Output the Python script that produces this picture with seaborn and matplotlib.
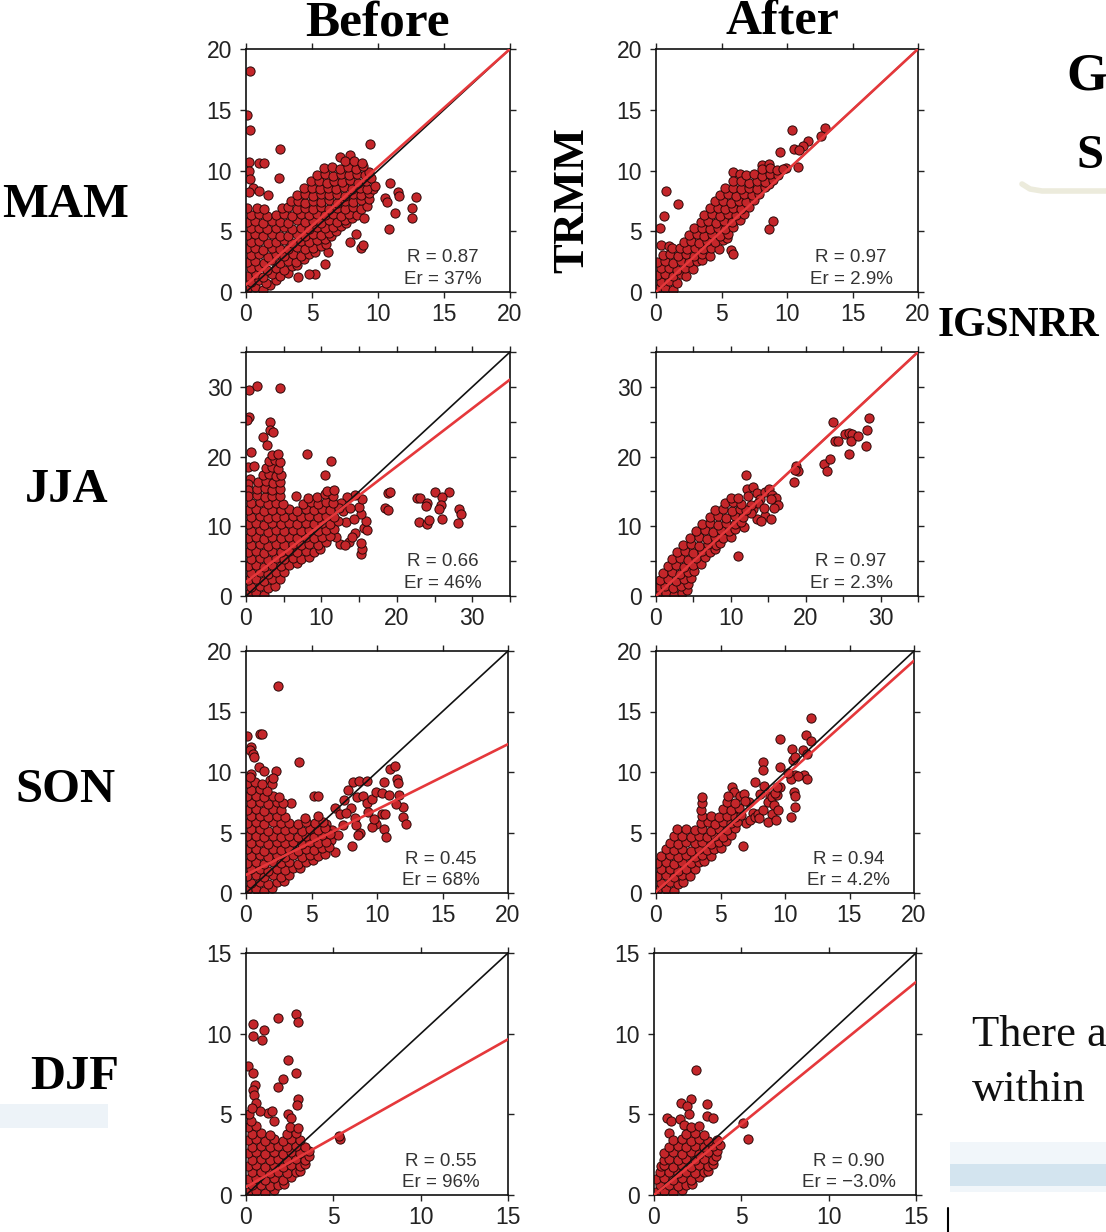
import matplotlib
matplotlib.use("Agg")
import matplotlib.pyplot as plt
from matplotlib import font_manager
from matplotlib.lines import Line2D
from matplotlib.patches import Rectangle
import pandas as pd
import seaborn as sns

# ---------------------------------------------------------------- data
seasons = ["MAM", "JJA", "SON", "DJF"]
axis_max = [20, 35, 20, 15]
label_step = [5, 10, 5, 5]
tick_step = [5, 5, 5, 5]

r_before = ["0.87", "0.66", "0.45", "0.55"]
er_before = ["37%", "46%", "68%", "96%"]
r_after = ["0.97", "0.97", "0.94", "0.90"]
er_after = ["2.9%", "2.3%", "4.2%", "\u22123.0%"]

# fitted regression lines (slope, intercept)
fit_before = [(0.97, 0.6), (0.83, 2.0), (0.54, 1.5), (0.61, 0.5)]
fit_after = [(1.00, 0.0), (1.00, 0.0), (0.955, 0.1), (0.88, 0.0)]

mam_before = [
    (0.3, 18.2), (0.1, 14.6), (0.3, 13.3), (2.6, 11.8), (9.4, 12.2), (0.2, 10.7), (1.0, 10.6), (1.4, 10.6),
    (0.2, 10.0), (2.5, 9.35), (0.3, 9.3), (0.5, 8.6), (1.0, 8.3), (1.65, 8.0), (0.2, 8.2),
    (10.9, 9.0), (11.5, 8.25), (11.6, 7.9), (10.5, 7.7), (10.7, 7.4), (11.3, 6.5), (12.9, 7.8), (12.6, 6.9),
    (12.6, 6.1), (10.8, 5.2), (7.9, 4.1), (8.7, 3.6), (8.9, 3.9), (8.3, 4.8), (5.2, 1.5), (4.8, 1.5),
    (3.95, 1.25), (5.95, 2.3), (6.2, 3.3), (7.1, 11.15), (7.85, 11.3),
    (0.1, 0.25), (0.7, 0.4), (1.3, 0.15), (1.8, 0.6),
    (0.4, 0.85), (1.0, 0.95), (1.55, 0.7), (2.3, 0.95),
    (0.05, 1.35), (0.75, 1.5), (1.3, 1.25), (1.95, 1.45), (2.6, 1.3), (3.2, 1.6),
    (0.35, 1.95), (1.0, 2.05), (1.6, 1.8), (2.25, 2.0), (2.85, 1.85), (3.5, 2.1), (3.9, 2.2),
    (0.05, 2.5), (0.7, 2.55), (1.35, 2.35), (1.9, 2.6), (2.55, 2.4), (3.2, 2.55), (3.8, 2.45), (4.4, 2.7),
    (0.35, 3.05), (1.0, 3.15), (1.65, 2.9), (2.3, 3.1), (2.9, 2.95), (3.55, 3.15), (4.15, 3.0), (4.75, 3.15), (5.2, 3.3),
    (0.05, 3.6), (0.7, 3.65), (1.3, 3.45), (1.95, 3.65), (2.6, 3.5), (3.2, 3.55), (3.85, 3.7), (4.5, 3.55), (5.1, 3.65), (5.7, 3.75), (6.05, 3.95),
    (0.35, 4.15), (1.0, 4.2), (1.65, 4.0), (2.3, 4.15), (2.9, 4.25), (3.5, 4.05), (4.15, 4.2), (4.8, 4.1), (5.4, 4.25), (6.0, 4.35), (6.45, 4.6),
    (0.05, 4.7), (0.7, 4.75), (1.3, 4.6), (1.95, 4.75), (2.6, 4.65), (3.2, 4.6), (3.85, 4.75), (4.5, 4.65), (5.1, 4.8), (5.7, 4.7), (6.3, 4.85), (6.85, 5.05),
    (0.35, 5.25), (1.0, 5.3), (1.6, 5.15), (2.25, 5.25), (2.9, 5.35), (3.5, 5.15), (4.15, 5.3), (4.8, 5.2), (5.4, 5.35), (6.0, 5.25), (6.6, 5.35), (7.2, 5.45), (7.55, 5.7),
    (0.05, 5.8), (0.7, 5.85), (1.3, 5.7), (1.95, 5.85), (2.6, 5.75), (3.2, 5.7), (3.85, 5.9), (4.5, 5.75), (5.1, 5.85), (5.7, 5.7), (6.3, 5.9), (6.9, 5.75), (7.5, 5.95), (8.05, 6.05),
    (0.35, 6.35), (1.0, 6.4), (1.6, 6.25), (2.25, 6.3), (2.9, 6.45), (3.5, 6.25), (4.15, 6.4), (4.8, 6.3), (5.4, 6.45), (6.0, 6.3), (6.6, 6.4), (7.2, 6.25), (7.8, 6.45), (8.4, 6.3), (8.95, 6.1),
    (0.1, 6.9), (0.8, 6.95), (1.4, 6.8), (2.7, 6.9), (3.2, 7.0), (3.85, 6.8), (4.5, 6.95), (5.1, 6.85), (5.7, 7.0), (6.3, 6.8), (6.9, 6.95), (7.5, 6.85), (8.1, 7.0), (8.7, 6.8), (9.2, 7.05),
    (3.4, 7.45), (3.95, 7.5), (4.5, 7.35), (5.1, 7.5), (5.7, 7.4), (6.3, 7.55), (6.9, 7.35), (7.5, 7.5), (8.1, 7.4), (8.7, 7.55), (9.3, 7.65),
    (3.9, 8.0), (4.5, 8.05), (5.1, 7.9), (5.7, 8.05), (6.3, 7.95), (6.9, 8.1), (7.5, 7.9), (8.1, 8.05), (8.7, 7.95), (9.3, 8.15), (9.65, 8.45),
    (4.4, 8.55), (5.0, 8.6), (5.6, 8.45), (6.2, 8.6), (6.8, 8.5), (7.4, 8.65), (8.0, 8.45), (8.6, 8.6), (9.2, 8.5), (9.75, 8.75),
    (4.9, 9.1), (5.5, 9.15), (6.1, 9.0), (6.7, 9.15), (7.3, 9.05), (7.9, 9.2), (8.5, 9.0), (9.1, 9.15), (9.5, 9.35),
    (5.4, 9.65), (6.0, 9.7), (6.6, 9.55), (7.2, 9.7), (7.8, 9.6), (8.4, 9.75), (9.0, 9.6), (9.3, 9.9),
    (5.9, 10.2), (6.5, 10.25), (7.1, 10.1), (7.7, 10.3), (8.3, 10.15), (8.9, 10.35),
    (7.5, 10.75), (8.2, 10.8), (8.8, 10.6),
]

mam_after = [
    (0.8, 8.35), (1.7, 7.25), (0.6, 6.25), (0.33, 5.3), (0.4, 3.85), (1.0, 3.8), (5.9, 9.9), (6.4, 9.7),
    (10.4, 13.35), (12.9, 13.5), (12.6, 12.8), (11.6, 12.4), (11.2, 12.0), (10.5, 11.8), (10.9, 11.7),
    (9.45, 11.55), (10.85, 10.3), (8.1, 10.45), (8.6, 10.5), (8.95, 5.85), (8.65, 5.15), (5.7, 3.45),
    (5.9, 3.1), (9.9, 10.2),
    (0.1, 0.25), (0.7, 0.35), (1.3, 0.2),
    (0.35, 0.85), (1.0, 0.9), (1.6, 0.75),
    (0.05, 1.4), (0.7, 1.45), (1.3, 1.3), (1.9, 1.45), (2.3, 1.35),
    (0.35, 1.95), (1.0, 2.0), (1.6, 1.85), (2.2, 2.0), (2.8, 1.9),
    (0.1, 2.5), (0.7, 2.55), (1.3, 2.4), (1.9, 2.55), (2.5, 2.45), (3.1, 2.55), (3.5, 2.65),
    (0.5, 3.05), (1.1, 3.1), (1.7, 2.95), (2.3, 3.1), (2.9, 3.0), (3.5, 3.15), (4.1, 3.0),
    (1.2, 3.6), (1.8, 3.65), (2.4, 3.5), (3.0, 3.65), (3.6, 3.55), (4.2, 3.65), (4.8, 3.5),
    (2.1, 4.15), (2.7, 4.2), (3.3, 4.05), (3.9, 4.2), (4.5, 4.1), (5.1, 4.25), (5.4, 4.45),
    (2.5, 4.7), (3.1, 4.75), (3.7, 4.6), (4.3, 4.75), (4.9, 4.65), (5.5, 4.8),
    (2.9, 5.25), (3.5, 5.3), (4.1, 5.15), (4.7, 5.3), (5.3, 5.2), (5.9, 5.35),
    (3.4, 5.8), (4.0, 5.85), (4.6, 5.7), (5.2, 5.85), (5.8, 5.75), (6.4, 5.9),
    (3.7, 6.35), (4.3, 6.4), (4.9, 6.25), (5.5, 6.4), (6.1, 6.3), (6.7, 6.45),
    (4.1, 6.9), (4.7, 6.95), (5.3, 6.8), (5.9, 6.95), (6.5, 6.85), (7.1, 7.0),
    (4.5, 7.45), (5.1, 7.5), (5.7, 7.35), (6.3, 7.5), (6.9, 7.4), (7.5, 7.55),
    (4.9, 8.0), (5.5, 8.05), (6.1, 7.9), (6.7, 8.05), (7.3, 7.95), (7.9, 8.1),
    (5.3, 8.55), (5.9, 8.6), (6.5, 8.45), (7.1, 8.6), (7.7, 8.5), (8.3, 8.65), (8.6, 8.85),
    (5.9, 9.1), (6.5, 9.15), (7.1, 9.0), (7.7, 9.15), (8.3, 9.05), (8.9, 9.2),
    (6.9, 9.65), (7.5, 9.7), (8.1, 9.55), (8.7, 9.7), (9.3, 9.6),
    (8.1, 10.15), (8.7, 10.2), (9.2, 10.05), (9.7, 10.1),
]

jja_before = [
    (0.44, 29.5), (1.46, 30.1), (4.56, 29.8), (0.35, 25.7), (0.1, 25.3), (3.14, 25.0), (3.2, 23.8), (3.6, 23.5),
    (2.26, 22.8), (2.8, 21.7), (0.66, 20.6), (8.1, 20.3), (11.3, 19.35), (10.5, 17.3), (0.3, 18.5), (0.5, 16.8),
    (0.3, 16.0), (1.0, 18.7), (0.2, 15.2),
    (18.76, 14.74), (19.1, 14.9), (18.4, 12.6), (18.8, 12.4), (22.7, 14.0), (23.1, 14.1), (24.0, 13.35),
    (23.8, 12.96), (22.9, 10.56), (24.0, 10.3), (24.2, 10.9), (25.0, 14.9), (26.9, 14.9), (26.0, 14.2),
    (25.9, 13.0), (25.6, 12.5), (26.0, 11.0), (28.2, 12.5), (28.5, 11.7), (28.1, 10.4),
    (15.2, 6.0), (15.4, 6.7), (15.3, 7.6), (14.5, 9.1), (15.6, 9.8), (16.1, 9.5), (15.9, 10.8), (15.3, 11.8),
    (15.0, 12.7), (15.4, 13.9), (14.5, 14.5), (13.4, 14.2), (12.8, 12.2), (13.2, 10.6), (13.6, 7.7),
    (12.5, 7.5), (13.1, 7.3), (14.1, 8.4), (11.9, 8.4), (6.6, 14.4), (12.6, 13.4), (13.8, 12.6), (14.3, 11.0),
    (0.2, 0.3), (1.3, 0.45), (2.4, 0.2),
    (0.7, 1.3), (1.8, 1.45), (2.9, 1.2), (3.9, 1.5),
    (0.2, 2.3), (1.3, 2.45), (2.4, 2.2), (3.5, 2.4), (4.5, 2.5),
    (0.7, 3.3), (1.8, 3.45), (2.9, 3.2), (4.0, 3.4), (5.1, 3.5),
    (0.2, 4.3), (1.3, 4.45), (2.4, 4.2), (3.5, 4.4), (4.6, 4.3), (5.7, 4.5), (6.7, 4.7),
    (0.7, 5.3), (1.8, 5.45), (2.9, 5.2), (4.0, 5.4), (5.1, 5.3), (6.2, 5.5), (7.3, 5.3), (8.4, 5.6),
    (0.2, 6.3), (1.3, 6.45), (2.4, 6.2), (3.5, 6.4), (4.6, 6.3), (5.7, 6.5), (6.8, 6.3), (7.9, 6.45), (9.0, 6.3), (9.8, 6.7),
    (0.7, 7.3), (1.8, 7.45), (2.9, 7.2), (4.0, 7.4), (5.1, 7.3), (6.2, 7.5), (7.3, 7.3), (8.4, 7.45), (9.5, 7.3), (10.6, 7.7),
    (0.2, 8.3), (1.3, 8.45), (2.4, 8.2), (3.5, 8.4), (4.6, 8.3), (5.7, 8.5), (6.8, 8.3), (7.9, 8.45), (9.0, 8.3), (10.1, 8.5), (11.2, 8.6),
    (0.7, 9.3), (1.8, 9.45), (2.9, 9.2), (4.0, 9.4), (5.1, 9.3), (6.2, 9.5), (7.3, 9.3), (8.4, 9.45), (9.5, 9.3), (10.6, 9.5), (11.7, 9.6),
    (0.2, 10.3), (1.3, 10.45), (2.4, 10.2), (3.5, 10.4), (4.6, 10.3), (5.7, 10.5), (6.8, 10.3), (7.9, 10.45), (9.0, 10.3), (10.1, 10.5), (11.2, 10.3), (12.2, 10.7),
    (0.7, 11.3), (1.8, 11.45), (2.9, 11.2), (4.0, 11.4), (5.1, 11.3), (6.2, 11.5), (7.3, 11.3), (8.4, 11.45), (9.5, 11.3), (10.6, 11.5), (11.7, 11.3),
    (0.2, 12.3), (1.3, 12.45), (2.4, 12.2), (3.5, 12.4), (4.6, 12.3), (5.7, 12.5), (6.8, 12.2), (7.9, 12.45), (9.0, 12.3), (10.1, 12.5), (11.2, 12.3), (12.3, 12.6),
    (0.7, 13.3), (1.8, 13.45), (2.9, 13.2), (4.0, 13.4), (4.9, 13.2), (7.6, 13.2), (8.6, 13.45), (9.6, 13.2), (10.6, 13.5), (11.6, 13.3),
    (0.3, 14.3), (1.4, 14.45), (2.5, 14.2), (3.5, 14.4), (4.5, 14.3), (8.2, 14.1), (9.4, 14.2), (10.5, 14.6), (11.5, 14.4),
    (1.5, 15.3), (2.5, 15.45), (3.5, 15.2), (4.5, 15.4), (10.7, 15.0), (11.7, 15.2),
    (1.6, 16.3), (2.6, 16.45), (3.6, 16.2), (4.5, 16.4),
    (2.2, 17.3), (3.1, 17.45), (4.0, 17.2), (4.7, 17.4),
    (2.6, 18.3), (3.5, 18.45), (4.3, 18.2),
    (3.0, 19.3), (3.9, 19.45), (4.5, 19.2),
    (3.4, 20.2), (4.2, 20.4),
]

jja_after = [
    (18.4, 16.4), (18.7, 18.7), (18.97, 18.0), (18.6, 18.1), (22.4, 19.0), (23.2, 19.7), (22.9, 17.9),
    (23.6, 25.0), (23.9, 22.3), (24.3, 22.3), (25.2, 23.3), (25.8, 23.35), (26.2, 23.3), (26.1, 22.3),
    (25.8, 20.3), (27.0, 22.9), (28.2, 23.8), (28.5, 25.5), (28.1, 21.5),
    (12.1, 15.4), (12.9, 15.6), (13.5, 14.8), (14.6, 14.9), (15.1, 15.4), (15.5, 14.5), (16.0, 14.0),
    (16.3, 13.1), (15.8, 12.6), (15.4, 13.9), (14.6, 11.5), (15.3, 11.0), (13.5, 11.0), (13.0, 12.5),
    (12.7, 11.9), (14.0, 10.8), (13.9, 13.9), (13.6, 13.3), (11.8, 9.84), (12.7, 13.0), (10.9, 5.76),
    (12.0, 17.4), (14.4, 12.6), (12.3, 14.3),
    (0.2, 0.3), (1.3, 0.45), (2.4, 0.2), (3.5, 0.5), (4.2, 0.8),
    (0.3, 1.3), (1.2, 1.5), (2.3, 1.2), (3.4, 1.4), (4.3, 1.65),
    (0.5, 2.3), (1.6, 2.45), (2.7, 2.2), (3.8, 2.45), (4.7, 2.6),
    (1.0, 3.3), (2.1, 3.45), (3.2, 3.2), (4.3, 3.45), (5.1, 3.55),
    (1.6, 4.3), (2.7, 4.45), (3.8, 4.2), (4.9, 4.45), (6.0, 4.55),
    (2.1, 5.3), (3.2, 5.45), (4.3, 5.2), (5.4, 5.45), (6.6, 5.55),
    (2.8, 6.3), (3.9, 6.45), (5.0, 6.2), (6.1, 6.45), (7.2, 6.3), (7.9, 6.7),
    (3.6, 7.3), (4.7, 7.45), (5.8, 7.2), (6.9, 7.45), (8.0, 7.3), (8.6, 7.65),
    (4.6, 8.3), (5.7, 8.45), (6.8, 8.2), (7.9, 8.45), (9.0, 8.3), (10.0, 8.45),
    (5.4, 9.3), (6.5, 9.45), (7.6, 9.2), (8.7, 9.45), (9.8, 9.3), (10.6, 9.55),
    (6.1, 10.3), (7.2, 10.45), (8.3, 10.2), (9.4, 10.45), (10.5, 10.3), (11.3, 10.65),
    (7.2, 11.3), (8.3, 11.45), (9.4, 11.2), (10.5, 11.45), (11.6, 11.3),
    (7.9, 12.3), (9.0, 12.45), (10.1, 12.2), (11.2, 12.45), (12.0, 12.3),
    (9.2, 13.3), (10.3, 13.45), (11.3, 13.2),
    (10.0, 14.1), (11.0, 14.0),
]

son_before = [
    (2.43, 17.1), (0.05, 13.0), (1.05, 13.1), (1.25, 13.1), (0.4, 12.1), (0.3, 11.8), (0.5, 11.5), (0.64, 11.25),
    (1.0, 10.4), (1.4, 10.1), (2.3, 10.1), (4.04, 10.8), (1.8, 9.3), (2.0, 9.0), (2.05, 9.5), (0.4, 9.8),
    (5.17, 8.0), (5.5, 8.0), (6.78, 7.0), (7.2, 6.5), (7.47, 7.65), (7.8, 8.5), (8.18, 9.17), (8.6, 9.25),
    (9.2, 9.25), (8.5, 7.9), (8.9, 8.0), (9.2, 7.4), (9.6, 7.8), (9.3, 6.7), (8.0, 7.0), (8.3, 6.2), (7.6, 6.6),
    (8.4, 5.58), (8.7, 5.0), (8.57, 4.83), (8.1, 3.87), (9.9, 8.35), (10.4, 8.3), (10.5, 9.17), (11.0, 10.28),
    (11.38, 10.47), (11.56, 9.45), (11.6, 9.1), (11.7, 8.07), (12.0, 7.1), (11.97, 6.27), (12.2, 5.7),
    (11.46, 7.32), (10.36, 6.55), (10.6, 6.5), (10.5, 5.25), (10.7, 4.6), (9.9, 5.7), (9.6, 5.45), (9.8, 6.1),
    (10.9, 8.1), (6.78, 3.37), (6.52, 4.34), (6.6, 5.2), (6.1, 5.7), (3.45, 7.43), (7.0, 4.8), (7.4, 5.6),
    (0.1, 0.25), (0.75, 0.35), (1.4, 0.2), (2.0, 0.45),
    (0.4, 0.85), (1.05, 0.9), (1.7, 0.75), (2.35, 0.95), (2.9, 1.0),
    (0.1, 1.4), (0.75, 1.45), (1.4, 1.3), (2.05, 1.45), (2.7, 1.35), (3.3, 1.5),
    (0.4, 1.95), (1.05, 2.0), (1.7, 1.85), (2.35, 2.0), (3.0, 1.9), (3.6, 2.05), (4.1, 2.1),
    (0.1, 2.5), (0.75, 2.55), (1.4, 2.4), (2.05, 2.55), (2.7, 2.45), (3.3, 2.55), (3.95, 2.4), (4.6, 2.6), (5.1, 2.7),
    (0.4, 3.05), (1.05, 3.1), (1.7, 2.95), (2.35, 3.1), (3.0, 3.0), (3.6, 3.15), (4.25, 2.95), (4.9, 3.1), (5.5, 3.05), (6.0, 3.2),
    (0.1, 3.6), (0.75, 3.65), (1.4, 3.5), (2.05, 3.65), (2.7, 3.55), (3.3, 3.6), (3.95, 3.5), (4.6, 3.65), (5.2, 3.55), (5.8, 3.7), (6.3, 3.8),
    (0.4, 4.15), (1.05, 4.2), (1.7, 4.05), (2.35, 4.2), (3.0, 4.1), (3.6, 4.2), (4.25, 4.05), (4.9, 4.2), (5.5, 4.1), (6.1, 4.25),
    (0.1, 4.7), (0.75, 4.75), (1.4, 4.6), (2.05, 4.75), (2.7, 4.65), (3.3, 4.7), (3.95, 4.6), (4.6, 4.75), (5.2, 4.65), (5.8, 4.8), (6.4, 4.9),
    (0.4, 5.25), (1.05, 5.3), (1.7, 5.15), (2.35, 5.3), (3.0, 5.2), (3.6, 5.3), (4.25, 5.15), (4.9, 5.3), (5.5, 5.2), (6.0, 5.35),
    (0.1, 5.8), (0.75, 5.85), (1.4, 5.7), (2.05, 5.85), (2.7, 5.75), (3.3, 5.8), (3.95, 5.7), (4.6, 5.85), (5.3, 5.75), (5.9, 5.9),
    (0.4, 6.35), (1.05, 6.4), (1.7, 6.25), (2.35, 6.4), (3.0, 6.3), (4.5, 6.2), (5.5, 6.4),
    (0.1, 6.9), (0.75, 6.95), (1.4, 6.8), (2.05, 6.95), (2.7, 6.85),
    (0.4, 7.45), (1.05, 7.5), (1.7, 7.35), (2.35, 7.5), (2.8, 7.4),
    (0.1, 8.0), (0.75, 8.05), (1.4, 7.9), (2.05, 8.05), (2.5, 7.95),
    (0.4, 8.55), (1.05, 8.6), (1.6, 8.45),
    (0.1, 9.1), (0.7, 9.15), (1.2, 9.0),
    (0.3, 9.55),
]

son_after = [
    (5.86, 8.76), (6.06, 8.34), (6.5, 8.0), (6.83, 8.2), (6.3, 7.0), (6.5, 6.5), (7.0, 5.8), (7.5, 6.6),
    (7.3, 6.0), (7.64, 6.27), (7.9, 6.5), (7.7, 9.17), (8.1, 8.2), (8.33, 10.83), (8.33, 10.2), (8.4, 8.84),
    (8.8, 8.0), (8.66, 7.5), (8.3, 6.9), (8.0, 6.2), (9.0, 7.9), (9.17, 7.24), (8.97, 6.55), (8.66, 5.86),
    (9.3, 6.0), (9.43, 6.82), (9.38, 8.07), (9.2, 8.3), (9.63, 10.4), (9.58, 8.76), (9.6, 12.76),
    (10.57, 11.93), (10.65, 10.97), (10.8, 11.2), (10.8, 9.72), (10.5, 9.4), (10.7, 8.34), (10.75, 8.0),
    (10.75, 7.1), (10.5, 6.27), (11.46, 9.72), (11.7, 9.45), (11.4, 11.8), (11.7, 11.5), (11.64, 13.04),
    (12.0, 12.6), (12.0, 14.47), (11.0, 9.7), (10.2, 9.9), (9.4, 8.8), (6.75, 3.92), (7.2, 7.5), (6.9, 7.6),
    (0.1, 0.25), (0.75, 0.35), (1.4, 0.2),
    (0.4, 0.85), (1.05, 0.9), (1.7, 0.75), (2.1, 0.95),
    (0.1, 1.4), (0.75, 1.45), (1.4, 1.3), (2.05, 1.45), (2.6, 1.4),
    (0.4, 1.95), (1.05, 2.0), (1.7, 1.85), (2.35, 2.0), (3.0, 1.95),
    (0.1, 2.5), (0.75, 2.55), (1.4, 2.4), (2.05, 2.55), (2.7, 2.45), (3.3, 2.55), (3.7, 2.65),
    (0.4, 3.05), (1.05, 3.1), (1.7, 2.95), (2.35, 3.1), (3.0, 3.0), (3.6, 3.15), (4.3, 3.05),
    (0.75, 3.6), (1.4, 3.55), (2.05, 3.65), (2.7, 3.5), (3.3, 3.6), (3.95, 3.55), (4.5, 3.65), (5.0, 3.75),
    (1.05, 4.15), (1.7, 4.05), (2.35, 4.2), (3.0, 4.1), (3.6, 4.2), (4.25, 4.05), (4.9, 4.2), (5.4, 4.3),
    (1.4, 4.7), (2.05, 4.75), (2.7, 4.6), (3.3, 4.75), (3.95, 4.65), (4.6, 4.7), (5.2, 4.6), (5.8, 4.8),
    (1.6, 5.25), (2.35, 5.3), (3.0, 5.2), (3.6, 5.3), (4.25, 5.15), (4.9, 5.3), (5.5, 5.2), (6.1, 5.35),
    (3.45, 5.8), (4.0, 5.85), (4.6, 5.7), (5.2, 5.85), (5.8, 5.75), (6.3, 5.9),
    (3.6, 6.35), (4.3, 6.4), (4.9, 6.25), (5.5, 6.4), (6.1, 6.3), (6.6, 6.45),
    (3.5, 6.9), (5.2, 6.95), (5.8, 6.85), (6.4, 7.0),
    (3.6, 7.45), (5.5, 7.5), (6.1, 7.4),
    (3.55, 7.9), (5.6, 8.0),
]

djf_before = [
    (0.38, 10.58), (0.42, 9.86), (1.05, 10.2), (0.9, 9.59), (1.85, 10.99), (2.87, 11.24), (3.0, 10.72),
    (0.13, 7.98), (2.43, 8.35), (0.38, 7.57), (2.14, 7.22), (1.85, 6.7), (2.87, 7.57), (0.5, 6.8), (0.4, 6.5),
    (0.48, 6.19), (0.6, 5.7), (3.0, 5.92), (2.9, 5.6), (1.28, 5.09), (1.47, 5.2), (0.8, 5.2), (1.6, 4.6),
    (2.43, 5.05), (2.6, 4.8), (5.39, 3.5), (5.3, 3.65),
    (0.1, 0.2), (0.6, 0.25), (1.1, 0.15), (1.6, 0.3),
    (0.35, 0.6), (0.85, 0.65), (1.35, 0.55), (1.85, 0.65), (2.2, 0.7),
    (0.1, 1.0), (0.6, 1.05), (1.1, 0.95), (1.6, 1.05), (2.1, 0.95), (2.55, 1.1),
    (0.35, 1.4), (0.85, 1.45), (1.35, 1.35), (1.85, 1.45), (2.35, 1.35), (2.85, 1.45), (3.1, 1.5),
    (0.1, 1.8), (0.6, 1.85), (1.1, 1.75), (1.6, 1.85), (2.1, 1.75), (2.6, 1.85), (3.1, 1.8), (3.4, 1.95),
    (0.35, 2.2), (0.85, 2.25), (1.35, 2.15), (1.85, 2.25), (2.35, 2.15), (2.85, 2.25), (3.35, 2.2), (3.6, 2.4),
    (0.1, 2.6), (0.6, 2.65), (1.1, 2.55), (1.6, 2.65), (2.1, 2.55), (2.6, 2.65), (3.1, 2.6), (3.6, 2.7),
    (0.35, 3.0), (0.85, 3.05), (1.35, 2.95), (1.85, 3.05), (2.35, 2.95), (2.85, 3.05), (3.35, 3.0),
    (0.1, 3.4), (0.6, 3.45), (1.1, 3.35), (1.6, 3.45), (2.1, 3.35), (2.6, 3.45), (3.1, 3.4),
    (0.35, 3.8), (0.85, 3.85), (1.35, 3.75), (2.35, 3.8), (2.85, 3.85),
    (0.1, 4.2), (0.6, 4.25), (2.5, 4.2), (3.0, 4.15),
    (0.3, 4.6), (0.15, 5.0), (0.35, 5.4),
]

djf_after = [
    (2.43, 7.72), (2.1, 5.94), (3.02, 5.65), (1.57, 5.69), (1.9, 5.5), (0.77, 4.76), (1.0, 4.6), (1.5, 4.7),
    (1.72, 4.35), (0.86, 3.87), (3.02, 4.87), (3.4, 4.8), (5.12, 4.49), (5.41, 3.48), (2.0, 5.0),
    (0.1, 0.2), (0.6, 0.25), (1.1, 0.15), (1.6, 0.3),
    (0.35, 0.6), (0.85, 0.65), (1.35, 0.55), (1.85, 0.65), (2.2, 0.7),
    (0.1, 1.0), (0.6, 1.05), (1.1, 0.95), (1.6, 1.05), (2.1, 0.95), (2.6, 1.1),
    (0.35, 1.4), (0.85, 1.45), (1.35, 1.35), (1.85, 1.45), (2.35, 1.35), (2.85, 1.45), (3.1, 1.5),
    (0.4, 1.8), (0.6, 1.85), (1.1, 1.75), (1.6, 1.85), (2.1, 1.75), (2.6, 1.85), (3.1, 1.8), (3.35, 1.95),
    (0.55, 2.2), (0.85, 2.25), (1.35, 2.15), (1.85, 2.25), (2.35, 2.15), (2.85, 2.25), (3.35, 2.2), (3.55, 2.4),
    (0.6, 2.6), (1.1, 2.65), (1.6, 2.55), (2.1, 2.65), (2.6, 2.55), (3.1, 2.65), (3.6, 2.7),
    (0.85, 3.0), (1.35, 3.05), (1.85, 2.95), (2.35, 3.05), (2.85, 2.95), (3.35, 3.05), (3.75, 3.1),
    (1.1, 3.4), (1.6, 3.45), (2.1, 3.35), (2.6, 3.45), (3.1, 3.35), (3.6, 3.4),
    (1.85, 3.8), (2.35, 3.85), (2.85, 3.75),
    (2.1, 4.2), (2.6, 4.25),
]

points_before = [mam_before, jja_before, son_before, djf_before]
points_after = [mam_after, jja_after, son_after, djf_after]

# ---------------------------------------------------------------- style
sns.set_theme(style="ticks")
plt.rcParams["font.family"] = ["Liberation Sans", "DejaVu Sans"]
installed = {f.name for f in font_manager.fontManager.ttflist}
stat_font = "Liberation Sans Narrow" if "Liberation Sans Narrow" in installed else "Liberation Sans"
serif = ["Liberation Serif", "DejaVu Serif"]

W, H = 1106, 1232
fig = plt.figure(figsize=(W / 100, H / 100), dpi=100)
fig.patch.set_facecolor("white")


def pixel_axes(x0, y0, x1, y1):
    return fig.add_axes([x0 / W, 1 - y1 / H, (x1 - x0) / W, (y1 - y0) / H])


# panel boxes (left, top, right, bottom) in pixels
rows_y = [(49, 292), (352, 596), (651, 893), (953, 1195)]
cols_x = [[(246, 510), (656, 918)],
          [(246, 510), (656, 918)],
          [(246, 508), (656, 914)],
          [(246, 508), (654, 916)]]

POINT_FACE = "#c4262a"
POINT_EDGE = "#2b0808"
FIT_RED = "#e5383b"

for i, season in enumerate(seasons):
    lim = axis_max[i]
    for j, (pts, fit, r_txt, er_txt) in enumerate([
        (points_before[i], fit_before[i], r_before[i], er_before[i]),
        (points_after[i], fit_after[i], r_after[i], er_after[i]),
    ]):
        x0, x1 = cols_x[i][j]
        y0, y1 = rows_y[i]
        ax = pixel_axes(x0, y0, x1, y1)
        df = pd.DataFrame(pts, columns=["obs", "est"])
        sns.scatterplot(data=df, x="obs", y="est", ax=ax, s=44, color=POINT_FACE,
                        edgecolor=POINT_EDGE, linewidth=0.7, zorder=2, legend=False)
        ax.plot([0, lim], [0, lim], color="#111111", lw=1.2, zorder=3)
        slope, icpt = fit
        ax.plot([0, lim], [icpt, icpt + slope * lim], color=FIT_RED, lw=1.9, zorder=4)

        ax.set_xlim(0, lim)
        ax.set_ylim(0, lim)
        ticks = list(range(0, lim + 1, label_step[i]))
        minor = list(range(0, lim + 1, tick_step[i]))
        ax.set_xticks(ticks)
        ax.set_yticks(ticks)
        ax.set_xticks(minor, minor=True)
        ax.set_yticks(minor, minor=True)
        ax.set_xlabel("")
        ax.set_ylabel("")
        ax.tick_params(which="both", direction="out", length=4, width=1.0, color="#222222",
                       top=True, right=True, labelsize=16.5, labelcolor="#222222")
        ax.tick_params(axis="x", pad=4)
        ax.tick_params(axis="y", pad=6)
        for sp in ax.spines.values():
            sp.set_visible(True)
            sp.set_color("#111111")
            sp.set_linewidth(1.2)

        ax.text(0.745, 0.14, f"R = {r_txt}", transform=ax.transAxes, ha="center", va="center",
                fontsize=13.5, family=stat_font, color="#333333", zorder=5)
        ax.text(0.745, 0.05, f"Er = {er_txt}", transform=ax.transAxes, ha="center", va="center",
                fontsize=13.5, family=stat_font, color="#333333", zorder=5)

# ---------------------------------------------------------------- slide text
def fig_text(x, y, s, **kw):
    fig.text(x / W, 1 - y / H, s, **kw)


bold = dict(family=serif, fontweight="bold", color="black")
fig_text(378, 24, "Before", ha="center", va="center", fontsize=37, **bold)
fig_text(782, 22, "After", ha="center", va="center", fontsize=36, **bold)
row_label_x = [66, 67, 66, 75]
row_label_y = [205, 490, 790, 1077]
for name, lx, ly in zip(seasons, row_label_x, row_label_y):
    fig_text(lx, ly, name, ha="center", va="center", fontsize=35, **bold)
fig_text(572, 200, "TRMM", ha="center", va="center", rotation=90, fontsize=32, **bold)
fig_text(938, 326, "IGSNRR", ha="left", va="center", fontsize=30, **bold)
fig_text(1066, 76, "G", ha="left", va="center", fontsize=38, **bold)
fig_text(1076, 156, "S", ha="left", va="center", fontsize=35, **bold)

fig_text(972, 1035, "There a", ha="left", va="center", fontsize=32, family=serif, color="#111111")
fig_text(972, 1090, "within", ha="left", va="center", fontsize=32, family=serif, color="#111111")

# soft bars and rule lines of the slide
fig.patches.append(Rectangle((950 / W, 1 - 1192 / H), 156 / W, 50 / H, transform=fig.transFigure,
                             facecolor="#f1f6fa", edgecolor="none", zorder=0))
fig.patches.append(Rectangle((950 / W, 1 - 1186 / H), 156 / W, 22 / H, transform=fig.transFigure,
                             facecolor="#d3e4ef", edgecolor="none", zorder=0))
fig.patches.append(Rectangle((0, 1 - 1128 / H), 108 / W, 24 / H, transform=fig.transFigure,
                             facecolor="#edf3f8", edgecolor="none", zorder=0))
fig.lines.append(Line2D([948 / W, 948 / W], [0, 1 - 1208 / H], transform=fig.transFigure,
                        color="black", lw=1.5))
fig.lines.append(Line2D([1022 / W, 1030 / W, 1042 / W, 1106 / W],
                        [1 - 184 / H, 1 - 189 / H, 1 - 191 / H, 1 - 191 / H],
                        transform=fig.transFigure, color="#ecebdc", lw=4, solid_capstyle="round"))

fig.savefig("out.png", dpi=100, facecolor="white")
